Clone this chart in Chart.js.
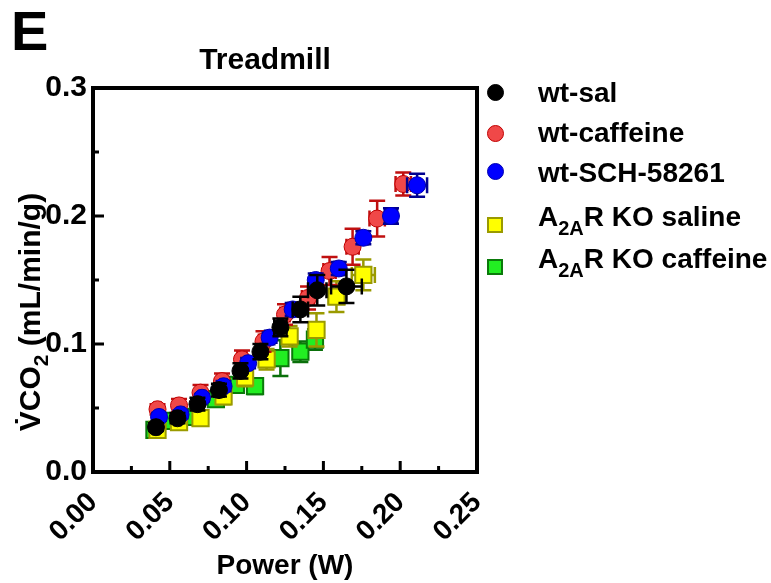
<!DOCTYPE html>
<html><head><meta charset="utf-8">
<script src="https://cdn.jsdelivr.net/npm/chart.js@4.4.0/dist/chart.umd.min.js"></script>
<style>
html,body{margin:0;padding:0;background:#fff;}
#wrap{position:relative;width:771px;height:583px;overflow:hidden;font-family:"Liberation Sans",Arial,sans-serif;font-weight:bold;color:#000;}
canvas{position:absolute;left:0;top:0;}
.t{position:absolute;white-space:nowrap;font-size:28px;line-height:32px;}
.sub{font-size:20px;position:relative;top:9px;}
.mk{position:absolute;box-sizing:border-box;}
</style></head>
<body><div id="wrap">
<canvas id="c" width="771" height="583"></canvas>
<div class="t" style="left:11px;top:3px;font-size:56px;line-height:56px;">E</div>
<div class="t" style="left:115px;width:300px;text-align:center;top:43px;font-size:30px;">Treadmill</div>
<div class="t" style="left:-120px;top:296px;width:300px;height:32px;text-align:center;font-size:30px;transform:rotate(-90deg);transform-origin:150px 16px;">V&#775;CO<span style="font-size:21px;position:relative;top:8px;">2</span> (mL/min/g)</div>
<div id="legend"></div>
</div>
<script>
// ---- data ----
const seriesNames = ['wt-sal', 'wt-caffeine', 'wt-SCH-58261', 'A2AR KO saline', 'A2AR KO caffeine'];

const wtSalX  = [0.041, 0.055, 0.068, 0.082, 0.096, 0.109, 0.122, 0.135, 0.146, 0.165];
const wtSalY  = [0.035, 0.042, 0.053, 0.064, 0.079, 0.094, 0.113, 0.127, 0.142, 0.145];
const wtSalXE = [0.002, 0.002, 0.002, 0.003, 0.003, 0.003, 0.004, 0.005, 0.006, 0.010];
const wtSalYE = [0.003, 0.004, 0.005, 0.005, 0.006, 0.006, 0.007, 0.010, 0.012, 0.013];

const wtCafX  = [0.042, 0.056, 0.070, 0.084, 0.097, 0.111, 0.125, 0.140, 0.154, 0.169, 0.185, 0.202];
const wtCafY  = [0.049, 0.052, 0.062, 0.071, 0.088, 0.102, 0.123, 0.136, 0.157, 0.176, 0.198, 0.225];
const wtCafXE = [0.002, 0.002, 0.002, 0.002, 0.003, 0.003, 0.003, 0.004, 0.004, 0.004, 0.005, 0.005];
const wtCafYE = [0.004, 0.005, 0.006, 0.006, 0.007, 0.008, 0.008, 0.009, 0.011, 0.014, 0.014, 0.009];

const wtSchX  = [0.043, 0.057, 0.071, 0.085, 0.101, 0.115, 0.130, 0.145, 0.160, 0.176, 0.194, 0.211];
const wtSchY  = [0.043, 0.045, 0.058, 0.067, 0.085, 0.105, 0.127, 0.150, 0.159, 0.183, 0.200, 0.224];
const wtSchXE = [0.002, 0.002, 0.002, 0.002, 0.002, 0.003, 0.003, 0.003, 0.003, 0.003, 0.004, 0.0065];
const wtSchYE = [0.003, 0.003, 0.003, 0.004, 0.004, 0.004, 0.005, 0.005, 0.005, 0.005, 0.006, 0.009];

const koSalX  = [0.042, 0.056, 0.070, 0.085, 0.099, 0.113, 0.128, 0.1455, 0.1585, 0.176];
const koSalY  = [0.033, 0.039, 0.042, 0.059, 0.074, 0.088, 0.106, 0.111, 0.137, 0.154];
const koSalXE = [0.002, 0.002, 0.002, 0.003, 0.003, 0.003, 0.004, 0.004, 0.005, 0.0075];
const koSalYE = [0.003, 0.004, 0.005, 0.006, 0.007, 0.008, 0.008, 0.013, 0.012, 0.012];

const koCafX  = [0.040, 0.0515, 0.0665, 0.080, 0.093, 0.1055, 0.122, 0.135, 0.1445];
const koCafY  = [0.033, 0.040, 0.043, 0.057, 0.068, 0.067, 0.089, 0.094, 0.1035];
const koCafXE = [0.002, 0.002, 0.002, 0.003, 0.003, 0.003, 0.003, 0.004, 0.004];
const koCafYE = [0.003, 0.004, 0.004, 0.005, 0.005, 0.006, 0.014, 0.008, 0.008];

const xTickStep = 0.05, xMax = 0.25;
const yTickStep = 0.1, yMax = 0.3;

// ---- styles ----
const styles = [
  {fill:'#000000', border:'#000000', bar:'#000000', shape:'circle', r:8.5, bw:1},
  {fill:'#f04848', border:'#c00000', bar:'#c01010', shape:'circle', r:8.5, bw:1},
  {fill:'#0000ff', border:'#0000b0', bar:'#000090', shape:'circle', r:8.5, bw:1},
  {fill:'#ffff00', border:'#9a9a00', bar:'#9a9a00', shape:'rect', r:11.5, bw:2},
  {fill:'#22ee22', border:'#0a7a0a', bar:'#0a700a', shape:'rect', r:11.5, bw:2}
];
const drawOrder = [0, 2, 1, 3, 4];

const xs = [wtSalX, wtCafX, wtSchX, koSalX, koCafX];
const ys = [wtSalY, wtCafY, wtSchY, koSalY, koCafY];
const xes = [wtSalXE, wtCafXE, wtSchXE, koSalXE, koCafXE];
const yes = [wtSalYE, wtCafYE, wtSchYE, koSalYE, koCafYE];

const datasets = seriesNames.map((n, i) => ({
  label: n,
  data: xs[i].map((x, j) => ({x: x, y: ys[i][j]})),
  pointStyle: styles[i].shape,
  pointRadius: styles[i].r,
  pointHoverRadius: styles[i].r,
  backgroundColor: styles[i].fill,
  borderColor: styles[i].border,
  pointBorderWidth: styles[i].bw,
  borderWidth: styles[i].bw,
  showLine: false,
  order: drawOrder[i]
}));

const errorBars = {
  id: 'errorBars',
  beforeDatasetDraw(chart, args) {
    const i = args.index;
    const sx = chart.scales.x, sy = chart.scales.y, ctx = chart.ctx;
    ctx.save();
    ctx.strokeStyle = styles[i].bar;
    ctx.lineWidth = 2.5;
    const c = 8;
    chart.data.datasets[i].data.forEach((p, j) => {
      const px = sx.getPixelForValue(p.x), py = sy.getPixelForValue(p.y);
      const x1 = sx.getPixelForValue(p.x - xes[i][j]), x2 = sx.getPixelForValue(p.x + xes[i][j]);
      const y1 = sy.getPixelForValue(p.y - yes[i][j]), y2 = sy.getPixelForValue(p.y + yes[i][j]);
      ctx.beginPath();
      ctx.moveTo(px, y1); ctx.lineTo(px, y2);
      ctx.moveTo(px - c, y1); ctx.lineTo(px + c, y1);
      ctx.moveTo(px - c, y2); ctx.lineTo(px + c, y2);
      ctx.moveTo(x1, py); ctx.lineTo(x2, py);
      ctx.moveTo(x1, py - c); ctx.lineTo(x1, py + c);
      ctx.moveTo(x2, py - c); ctx.lineTo(x2, py + c);
      ctx.stroke();
    });
    ctx.restore();
  }
};

const frame = {
  id: 'frame',
  afterDraw(chart) {
    const {ctx, chartArea: a} = chart;
    const sx = chart.scales.x, sy = chart.scales.y;
    ctx.save();
    ctx.strokeStyle = '#000';
    ctx.lineWidth = 4;
    ctx.beginPath();
    ctx.moveTo(a.left - 2, a.top); ctx.lineTo(a.right, a.top); ctx.lineTo(a.right, a.bottom + 2);
    ctx.stroke();
    ctx.lineWidth = 3;
    ctx.beginPath();
    for (let k = 1; k < 10; k++) {
      const v = k * xTickStep / 2;
      const px = sx.getPixelForValue(v);
      const len = (k % 2 === 0) ? 11 : 6;
      ctx.moveTo(px, a.bottom); ctx.lineTo(px, a.bottom - len);
    }
    for (let k = 1; k < 6; k++) {
      const v = k * yTickStep / 2;
      const py = sy.getPixelForValue(v);
      const len = (k % 2 === 0) ? 11 : 6;
      ctx.moveTo(a.left, py); ctx.lineTo(a.left + len, py);
    }
    ctx.stroke();
    ctx.restore();
  }
};

const font28 = {family: '"Liberation Sans", Arial, sans-serif', size: 28, weight: 'bold'};
const font30 = {family: '"Liberation Sans", Arial, sans-serif', size: 30, weight: 'bold'};

new Chart(document.getElementById('c'), {
  type: 'scatter',
  data: {datasets: datasets},
  options: {
    responsive: false,
    animation: false,
    devicePixelRatio: 1,
    layout: {padding: {left: 0, top: 88, right: 294, bottom: 0}},
    plugins: {legend: {display: false}, tooltip: {enabled: false}, title: {display: false}},
    scales: {
      x: {
        type: 'linear', min: 0, max: xMax,
        ticks: {stepSize: xTickStep, minRotation: 45, maxRotation: 45, autoSkip: false, padding: 24, color: '#000',
                font: Object.assign({}, font28, {lineHeight: 0.2}),
                callback: v => Number(v).toFixed(2)},
        grid: {display: false, drawTicks: false},
        border: {display: true, color: '#000', width: 4},
        title: {display: true, text: 'Power (W)', color: '#000', font: font28, padding: {top: 0, bottom: 0}},
        afterFit: s => { s.height = 111; }
      },
      y: {
        type: 'linear', min: 0, max: yMax,
        ticks: {stepSize: yTickStep, padding: 6, color: '#000', font: font30,
                callback: v => Number(v).toFixed(1)},
        grid: {display: false, drawTicks: false},
        border: {display: true, color: '#000', width: 4},
        afterFit: s => { s.width = 93; }
      }
    }
  },
  plugins: [errorBars, frame]
});

// ---- HTML legend ----
const legendText = [
  'wt-sal', 'wt-caffeine', 'wt-SCH-58261',
  'A<span class="sub">2A</span>R KO saline', 'A<span class="sub">2A</span>R KO caffeine'
];
const textMid = [92.5, 133, 172.5, 216.7, 258.3];
const markMid = [92.7, 133.3, 171.7, 225, 266.7];
const lg = document.getElementById('legend');
legendText.forEach((t, i) => {
  const st = styles[i];
  const m = document.createElement('div');
  m.className = 'mk';
  const size = st.shape === 'circle' ? 17 : 16;
  m.style.width = size + 'px'; m.style.height = size + 'px';
  m.style.left = (495 - size / 2) + 'px'; m.style.top = (markMid[i] - size / 2) + 'px';
  m.style.background = st.fill;
  m.style.border = (st.shape === 'circle' ? 1 : 2) + 'px solid ' + st.border;
  if (st.shape === 'circle') m.style.borderRadius = '50%';
  lg.appendChild(m);
  const d = document.createElement('div');
  d.className = 't';
  d.style.left = '538px'; d.style.top = (textMid[i] - 15.7) + 'px';
  d.innerHTML = t;
  lg.appendChild(d);
});
</script>
</body></html>
